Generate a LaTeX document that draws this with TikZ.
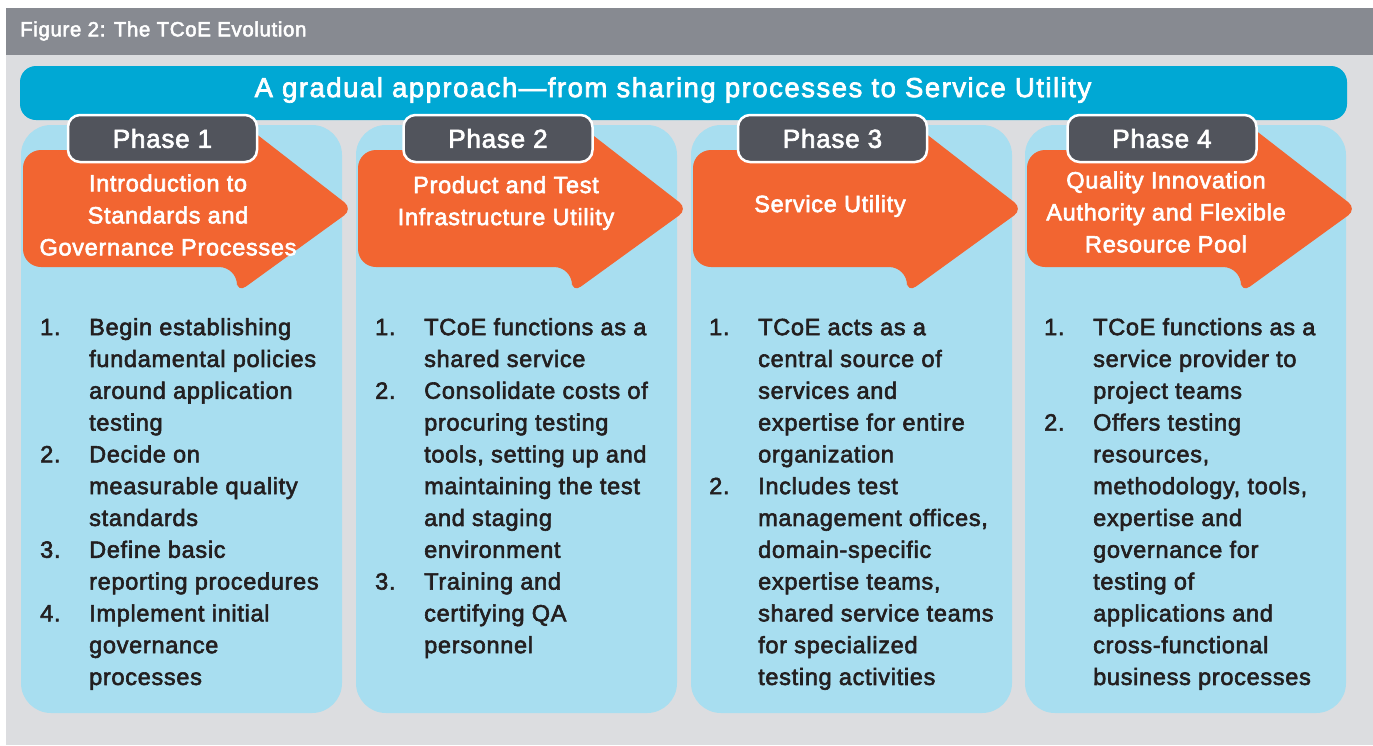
\documentclass[tikz,border=0pt]{standalone}
\usepackage{fontspec}
\usepackage{xcolor}
\usepackage{tikz}
\usetikzlibrary{positioning}
\setmainfont{Liberation Sans}
\newfontfamily\medfont[FakeBold=2.5,LetterSpace=3]{Liberation Sans}
\newfontfamily\widefont[FakeBold=2.5,LetterSpace=5.5]{Liberation Sans}

\definecolor{headgrey}{HTML}{878A91}
\definecolor{bggrey}{HTML}{DCDDE0}
\definecolor{bannerblue}{HTML}{00A8D4}
\definecolor{colblue}{HTML}{A8DEF0}
\definecolor{phaseorange}{HTML}{F26531}
\definecolor{tabgrey}{HTML}{51545C}
\definecolor{listtext}{HTML}{231F20}

\tikzset{
  column/.style={fill=colblue, rounded corners=30pt},
  arrowfill/.style={fill=phaseorange},
  phasetab/.style={draw=white, line width=2.5pt, fill=tabgrey, rounded corners=12pt,
    minimum width=189pt, minimum height=47pt, inner sep=0pt, text=white,
    font=\medfont\fontsize{26}{30}\selectfont},
  arrowtext/.style={text=white, align=center, inner sep=0pt,
    font=\medfont\fontsize{23.5}{32}\selectfont},
  steplist/.style={anchor=north west, inner sep=0pt, text=listtext,
    font=\medfont\fontsize{23.5}{31.8}\selectfont}
}

% orange arrow behind each phase tab
\newcommand\phasearrow[1]{%
  \fill[arrowfill, rounded corners=18pt] (#1+216,150) -- (#1+2,150) -- (#1+2,267)
    -- (#1+216,267) [rounded corners=11pt] -- (#1+216,293) -- (#1+332,209)
    -- (#1+216,119) -- cycle;}

\newcommand\stepstab[1]{\begin{tabular}{@{}p{49pt}@{}l@{}}#1\end{tabular}}

\begin{document}
\begin{tikzpicture}[x=1pt, y=-1pt]
  \useasboundingbox (0,0) rectangle (1373,745);
  \fill[white] (0,0) rectangle (1373,745);
  \fill[bggrey] (6,55) rectangle (1373,745);
  \fill[headgrey] (6,8) rectangle (1373,55);
  \node[anchor=west, text=white, inner sep=0pt, font=\medfont\fontsize{20.5}{24}\selectfont]
    (figtitle) at (20,31) {Figure 2: The TCoE Evolution};

  % banner
  \fill[bannerblue, rounded corners=16pt] (20,66) rectangle (1347,120);
  \node[text=white, inner sep=0pt, font=\widefont\fontsize{27.5}{30}\selectfont]
    (banner) at (673,90) {A gradual approach—from sharing processes to Service Utility};

  % columns
  \fill[column] (21,125) rectangle (342,713);
  \fill[column] (356,125) rectangle (677,713);
  \fill[column] (691,125) rectangle (1012,713);
  \fill[column] (1025,125) rectangle (1346,713);

  \phasearrow{21}
  \phasearrow{356}
  \phasearrow{691}
  \phasearrow{1025}

  \node[phasetab] (tab1) at (162.5,138.5) {Phase 1};
  \node[phasetab] (tab2) at (498,138.5) {Phase 2};
  \node[phasetab] (tab3) at (832.5,138.5) {Phase 3};
  \node[phasetab] (tab4) at (1162,138.5) {Phase 4};

  \node[arrowtext] (arr1) at (168,215) {Introduction to\\Standards and\\Governance Processes};
  \node[arrowtext] (arr2) at (506,203) {Product and Test\\Infrastructure Utility};
  \node[arrowtext] (arr3) at (830,206) {Service Utility};
  \node[arrowtext] (arr4) at (1166,212) {Quality Innovation\\Authority and Flexible\\Resource Pool};

  % numbered lists
  \node[steplist] (list1) at (40,312.7) {\stepstab{
    1. & Begin establishing\\ & fundamental policies\\ & around application\\ & testing\\
    2. & Decide on\\ & measurable quality\\ & standards\\
    3. & Define basic\\ & reporting procedures\\
    4. & Implement initial\\ & governance\\ & processes}};
  \node[steplist] (list2) at (375,312.7) {\stepstab{
    1. & TCoE functions as a\\ & shared service\\
    2. & Consolidate costs of\\ & procuring testing\\ & tools, setting up and\\ & maintaining the test\\ & and staging\\ & environment\\
    3. & Training and\\ & certifying QA\\ & personnel}};
  \node[steplist] (list3) at (709,312.7) {\stepstab{
    1. & TCoE acts as a\\ & central source of\\ & services and\\ & expertise for entire\\ & organization\\
    2. & Includes test\\ & management offices,\\ & domain-specific\\ & expertise teams,\\ & shared service teams\\ & for specialized\\ & testing activities}};
  \node[steplist] (list4) at (1044,312.7) {\stepstab{
    1. & TCoE functions as a\\ & service provider to\\ & project teams\\
    2. & Offers testing\\ & resources,\\ & methodology, tools,\\ & expertise and\\ & governance for\\ & testing of\\ & applications and\\ & cross-functional\\ & business processes}};
\end{tikzpicture}
\end{document}
